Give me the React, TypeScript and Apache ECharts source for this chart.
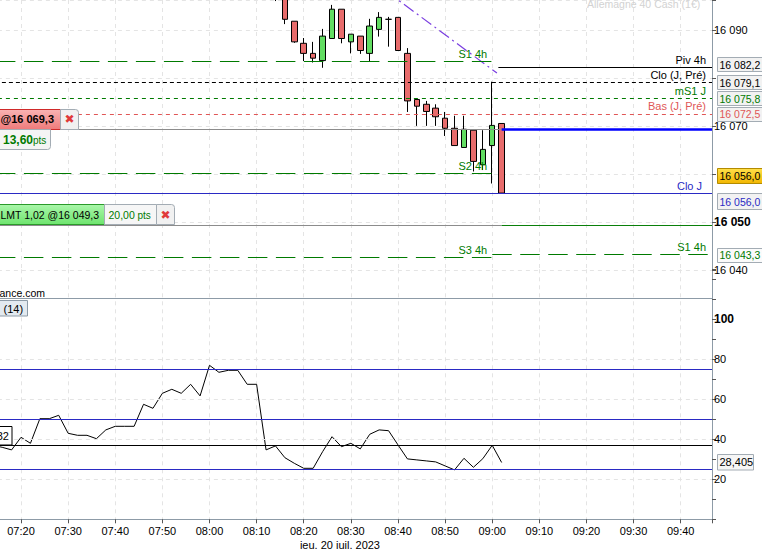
import { useEffect, useRef } from 'react';
import * as echarts from 'echarts';

const FONT = '"Liberation Sans", Arial, sans-serif';

// 2-minute candles, DAX cash
const candleTimes = ['08:14', '08:16', '08:18', '08:20', '08:22', '08:24', '08:26', '08:28', '08:30', '08:32', '08:34', '08:36', '08:38', '08:40', '08:42', '08:44', '08:46', '08:48', '08:50', '08:52', '08:54', '08:56', '08:58', '09:00', '09:02'];
const opens = [16097.5, 16098.5, 16091.8, 16087.2, 16085.1, 16083.6, 16088.2, 16094.3, 16087.5, 16088.7, 16085.1, 16090.1, 16092.2, 16092.6, 16085.1, 16075.5, 16074.5, 16073.7, 16071.6, 16069.5, 16065.5, 16069.1, 16061.9, 16065.9, 16070.5];
const closes = [16099.5, 16092.2, 16087.5, 16085.1, 16084.1, 16088.7, 16094.3, 16088.2, 16089.1, 16085.7, 16090.8, 16092.6, 16092.2, 16085.7, 16075.2, 16074.1, 16073.0, 16071.9, 16069.5, 16065.9, 16069.3, 16062.6, 16065.1, 16070.1, 16056.0];
const lows = [16096.0, 16091.2, 16087.3, 16083.5, 16083.2, 16082.1, 16088.2, 16087.2, 16085.1, 16085.0, 16083.5, 16088.6, 16086.5, 16085.7, 16072.9, 16070.0, 16070.0, 16070.0, 16067.9, 16065.9, 16065.5, 16060.5, 16060.8, 16058.0, 16056.0];
const highs = [16100.5, 16099.0, 16091.8, 16088.3, 16087.5, 16090.2, 16095.2, 16094.3, 16089.1, 16088.7, 16092.3, 16093.7, 16092.7, 16092.6, 16086.2, 16075.5, 16075.2, 16074.5, 16072.9, 16072.1, 16072.1, 16069.1, 16069.1, 16079.2, 16070.5];

// RSI(14)
const rsiTimes = ['07:14', '07:16', '07:18', '07:20', '07:22', '07:24', '07:26', '07:28', '07:30', '07:32', '07:34', '07:36', '07:38', '07:40', '07:42', '07:44', '07:46', '07:48', '07:50', '07:52', '07:54', '07:56', '07:58', '08:00', '08:02', '08:04', '08:06', '08:08', '08:10', '08:12', '08:14', '08:16', '08:18', '08:20', '08:22', '08:24', '08:26', '08:28', '08:30', '08:32', '08:34', '08:36', '08:38', '08:40', '08:42', '08:44', '08:46', '08:48', '08:50', '08:52', '08:54', '08:56', '08:58', '09:00', '09:02'];
const rsiValues = [37.0, 36.0, 34.7, 41.0, 38.0, 50.3, 50.3, 52.0, 43.0, 42.0, 42.0, 40.3, 44.7, 46.5, 46.5, 46.5, 57.5, 55.5, 63.0, 65.0, 63.0, 67.5, 61.7, 77.0, 73.5, 74.5, 74.5, 67.5, 67.5, 34.7, 36.7, 30.8, 28.0, 25.5, 25.5, 33.8, 41.3, 36.3, 38.0, 35.2, 42.5, 44.7, 44.3, 37.2, 30.2, 29.7, 29.2, 28.7, 26.7, 24.7, 30.5, 26.0, 30.3, 37.0, 28.405];
const rsiLevels = [75, 50, 25];
const rsiGridValues = [20, 40, 60, 80];
const rsiMarker = 37.15;

// levels
const sessionSplit = '09:00';
const prevSupportNames = ['S1 4h', 'S2 4h', 'S3 4h'];
const prevSupportValues = [16083.5, 16060.1, 16042.6];
const newSupportNames = ['S1 4h'];
const newSupportValues = [16043.3];
const pivotName = 'Piv 4h';
const pivotStart = '09:01.3';
const pivotValue = 16082.2;
const dayLevelNames = ['Clo (J, Pré)', 'mS1 J', 'Bas (J, Pré)', 'Clo J'];
const dayLevelValues = [16079.1, 16075.8, 16072.5, 16056.0];
// price ticks hidden behind the value tags
const coveredTicks = [16080, 16060];

// orders
const lastTime = '09:02';
const orderPrices = [16069.3, 16049.3];
const orderTexts = ['@16 069,3', 'LMT 1,02 @16 049,3'];
const orderPts = ['13,60', '20,00'];
const positionLine = 16069.4;

// trend line
const trendTimes = ['08:30', '09:01'];
const trendValues = [16103.5, 16081.0];

const X_MIN = 430;
const X_MAX = 586.64;
const X_VISIBLE = 435.54;
const GREEN = '#007a00';
const BLUE = '#2a2ac4';
const RED = '#e05656';
const AXIS = '#8d9ba7';

const toMin = (t: string) => {
  const [h, m] = t.split(':');
  return Number(h) * 60 + Number(m);
};
const pad = (n: number) => String(n).padStart(2, '0');
const isTen = (v: number) => Math.abs(v - Math.round(v / 10) * 10) < 1e-6;
const fmtNum = (v: number, dec: number) => {
  const [i, d] = v.toFixed(dec).split('.');
  const ip = i.replace(/\B(?=(\d{3})+(?!\d))/g, ' ');
  return d ? `${ip},${d}` : ip;
};

const endLabel = (text: string, color: string, dx: number) => ({
  show: true,
  formatter: text,
  position: 'insideEndTop',
  distance: [dx, 2],
  color,
  fontFamily: FONT,
  fontSize: 11,
});

const buildOption = () => {
  const split = toMin(sessionSplit);
  const last = toMin(lastTime);
  const longDash = [19.5, 8.5];
  const dayStyles = [
    { color: '#000', type: [4, 3] },
    { color: GREEN, type: [4, 4] },
    { color: RED, type: [4, 4] },
    { color: BLUE, type: 'solid' },
  ];
  const dayColors = ['#000', GREEN, RED, BLUE];

  const priceMarks: any[] = [
    ...prevSupportValues.map((v, i) => [
      { coord: [X_MIN, v], lineStyle: { color: GREEN, width: 1, type: longDash, dashOffset: 6 }, label: endLabel(prevSupportNames[i], GREEN, 5) },
      { coord: [split, v] },
    ]),
    ...newSupportValues.map((v, i) => [
      { coord: [split, v], lineStyle: { color: GREEN, width: 1, type: longDash, dashOffset: 0 }, label: endLabel(newSupportNames[i], GREEN, 6) },
      { coord: [X_MAX, v] },
    ]),
    [
      { coord: [toMin(pivotStart), pivotValue], lineStyle: { color: '#000', width: 1, type: 'solid' }, label: endLabel(pivotName, '#000', 6) },
      { coord: [X_MAX, pivotValue] },
    ],
    ...dayLevelValues.map((v, i) => ({
      yAxis: v,
      lineStyle: { width: 1, ...dayStyles[i] },
      label: endLabel(dayLevelNames[i], dayColors[i], i === 3 ? 10 : 6),
    })),
    [{ coord: [X_MIN, orderPrices[0]], lineStyle: { color: '#8c8c8c', width: 1, type: 'solid' } }, { coord: [last, orderPrices[0]] }],
    [{ coord: [last, positionLine], lineStyle: { color: '#0000ff', width: 2.5, type: 'solid' } }, { coord: [X_MAX, positionLine] }],
    [{ coord: [X_MIN, orderPrices[1]], lineStyle: { color: '#8c8c8c', width: 1, type: 'solid' } }, { coord: [last, orderPrices[1]] }],
    [{ coord: [last, orderPrices[1]], lineStyle: { color: '#0a800a', width: 1, type: 'solid' } }, { coord: [X_MAX, orderPrices[1]] }],
  ];

  const rsiMarks: any[] = [
    ...rsiGridValues.map((v) => ({ yAxis: v, lineStyle: { color: '#e4e4e4', width: 1, type: [4, 4] } })),
    ...rsiLevels.map((v) => ({ yAxis: v, lineStyle: { color: BLUE, width: 1, type: 'solid' } })),
    { yAxis: rsiMarker, lineStyle: { color: '#000', width: 1, type: 'solid' } },
  ];

  const xBase = {
    type: 'value',
    min: X_MIN,
    max: X_MAX,
    interval: 10,
    splitLine: { show: true, lineStyle: { color: '#e4e4e4', type: [4, 4] } },
  };

  return {
    animation: false,
    backgroundColor: '#ffffff',
    textStyle: { fontFamily: FONT, fontSize: 11 },
    grid: [
      { left: -26.1, right: 50, top: 0, height: 269.9, containLabel: false, outerBoundsMode: 'none' },
      { left: -26.1, right: 50, top: 269.3, height: 250, containLabel: false, outerBoundsMode: 'none' },
    ],
    xAxis: [
      { ...xBase, gridIndex: 0, axisLine: { show: false }, axisTick: { show: false }, axisLabel: { show: false } },
      {
        ...xBase,
        gridIndex: 1,
        axisLine: { show: true, onZero: false, lineStyle: { color: AXIS } },
        axisTick: { show: true, length: 4, lineStyle: { color: '#555' } },
        axisLabel: {
          color: '#000',
          margin: 6,
          fontSize: 11,
          fontFamily: FONT,
          formatter: (v: number) =>
            isTen(v) && v > X_VISIBLE ? `${pad(Math.floor(v / 60))}:${pad(Math.round(v % 60))}` : '',
        },
      },
    ],
    yAxis: [
      {
        type: 'value',
        gridIndex: 0,
        position: 'right',
        min: 16040,
        max: 16096.22,
        interval: 10,
        axisLine: { show: true, lineStyle: { color: AXIS } },
        axisTick: { show: true, length: 4, lineStyle: { color: '#555' } },
        axisLabel: {
          color: '#000',
          margin: 2,
          fontSize: 11,
          fontFamily: FONT,
          formatter: (v: number) => {
            if (!isTen(v) || coveredTicks.includes(Math.round(v))) return '';
            const t = fmtNum(v, 0);
            return Math.round(v) % 50 === 0 ? `{b|${t}}` : t;
          },
          rich: { b: { fontWeight: 'bold', fontSize: 12, fontFamily: FONT, color: '#000' } },
        },
        splitLine: { show: true, lineStyle: { color: '#e4e4e4', type: [4, 4] } },
      },
      {
        type: 'value',
        gridIndex: 1,
        position: 'right',
        min: 0,
        max: 125,
        interval: 20,
        axisLine: { show: true, lineStyle: { color: AXIS } },
        axisTick: { show: true, length: 4, lineStyle: { color: '#555' } },
        minorTick: { show: true, splitNumber: 2, length: 4, lineStyle: { color: '#555' } },
        axisLabel: {
          color: '#000',
          margin: 2,
          fontSize: 11,
          fontFamily: FONT,
          formatter: (v: number) => (v === 100 ? '{b|100}' : v > 0 && v < 100 ? String(v) : ''),
          rich: { b: { fontWeight: 'bold', fontSize: 12, fontFamily: FONT, color: '#000' } },
        },
        splitLine: { show: false },
      },
    ],
    series: [
      {
        type: 'line',
        xAxisIndex: 0,
        yAxisIndex: 0,
        data: trendTimes.map((t, i) => [toMin(t), trendValues[i]]),
        symbol: 'none',
        silent: true,
        lineStyle: { color: '#7a3ee0', width: 1.2, type: [12, 4, 2, 4] },
        markLine: { silent: true, symbol: ['none', 'none'], label: { show: false }, data: priceMarks },
      },
      {
        type: 'candlestick',
        xAxisIndex: 0,
        yAxisIndex: 0,
        barWidth: 6,
        silent: true,
        encode: { x: 0, y: [1, 2, 3, 4] },
        data: candleTimes.map((t, i) => [toMin(t), opens[i], closes[i], lows[i], highs[i]]),
        itemStyle: { color: '#62dd62', color0: '#e86c6c', borderColor: '#000', borderColor0: '#000', borderWidth: 1 },
      },
      {
        type: 'line',
        xAxisIndex: 1,
        yAxisIndex: 1,
        data: rsiTimes.map((t, i) => [toMin(t), rsiValues[i]]),
        symbol: 'none',
        silent: true,
        lineStyle: { color: '#000', width: 1 },
        markLine: { silent: true, symbol: ['none', 'none'], label: { show: false }, data: rsiMarks },
      },
    ],
  };
};

const rect = (x: number, y: number, w: number, h: number, fill: any, stroke: string, r: any = 0) => ({
  type: 'rect',
  z: 100,
  silent: true,
  shape: { x, y, width: w, height: h, r },
  style: { fill, stroke, lineWidth: 1 },
});

const txt = (x: number, y: number, text: string, fill: string, size = 11, weight = 'normal', align = 'left', family = FONT) => ({
  type: 'text',
  z: 101,
  silent: true,
  x,
  y,
  style: { text, fill, font: `${weight} ${size}px ${family}`, align, verticalAlign: 'middle' },
});

const grad = (top: string, bottom: string) =>
  new echarts.graphic.LinearGradient(0, 0, 0, 1, [
    { offset: 0, color: top },
    { offset: 1, color: bottom },
  ]);

const buildGraphics = (py: (v: number) => number, ry: (v: number) => number) => {
  const els: any[] = [];
  const snap = (v: number) => Math.round(v) + 0.5;

  // panel separator
  els.push({ type: 'line', z: 90, silent: true, shape: { x1: 0, y1: 298.5, x2: 712, y2: 298.5 }, style: { stroke: AXIS, lineWidth: 1 } });

  // value tags on the price axis
  const lastClose = closes[closes.length - 1];
  const tags = [
    { v: pivotValue, dy: -3.3, color: '#000', fill: '#f2f2f2', h: 14 },
    { v: dayLevelValues[0], dy: 0, color: '#000', fill: '#f2f2f2', h: 14 },
    { v: dayLevelValues[1], dy: 0, color: GREEN, fill: '#f2f2f2', h: 14 },
    { v: dayLevelValues[2], dy: 0, color: RED, fill: '#f2f2f2', h: 14 },
    { v: lastClose, dy: -18, color: '#000', fill: grad('#ffe04a', '#f2b600'), h: 15, stroke: '#b38b00' },
    { v: dayLevelValues[3], dy: 8, color: BLUE, fill: '#f2f2f2', h: 16 },
    { v: newSupportValues[0], dy: 0.7, color: GREEN, fill: '#fbfbfb', h: 14 },
  ];
  tags.forEach((t) => {
    const cy = py(t.v) + t.dy;
    els.push(rect(717.5, snap(cy - t.h / 2), 50, t.h, t.fill, (t as any).stroke || '#a3acb4'));
    els.push(txt(719.5, cy + 0.5, fmtNum(t.v, 1), t.color, 10.5));
  });

  // RSI tag
  const last = rsiValues[rsiValues.length - 1];
  const rc = ry(last);
  els.push(rect(717.5, snap(rc - 8), 36, 15.5, '#f6f6f6', '#a3acb4'));
  els.push(txt(719.5, rc, last.toFixed(3).replace('.', ','), '#000', 11));

  // order 1 (red)
  const y1 = py(orderPrices[0]);
  els.push(rect(-60.5, snap(y1 - 20), 121, 20, grad('#f9b4b4', '#ef7a7a'), '#d02a2a'));
  els.push(txt(54, y1 - 10, orderTexts[0], '#000', 11, 'bold', 'right'));
  els.push(rect(60.5, snap(y1 - 20), 18, 20, '#f1f1f1', '#a3acb4', [0, 3, 0, 0]));
  els.push(txt(69.5, y1 - 10, '✖', '#e03a3a', 12, 'bold', 'center', '"DejaVu Sans", sans-serif'));
  els.push(rect(-10.5, snap(y1), 61, 20, '#f4f4f4', '#a3acb4', [0, 0, 3, 0]));
  els.push(txt(3, y1 + 10.5, orderPts[0], GREEN, 12, 'bold'));
  els.push(txt(33, y1 + 11, 'pts', GREEN, 10));

  // order 2 (green)
  const y2 = py(orderPrices[1]);
  const top2 = snap(y2 - 21);
  els.push(rect(-10.5, top2, 115, 20, grad('#aaf7aa', '#6ee46e'), '#2a9a2a'));
  els.push(txt(0.5, top2 + 10, orderTexts[1], '#000', 10.5));
  els.push(rect(104.5, top2, 52, 20, '#f6f6f6', '#a3acb4'));
  els.push(txt(108.5, top2 + 10, orderPts[1], GREEN, 10.5));
  els.push(txt(137.5, top2 + 10.5, 'pts', GREEN, 10));
  els.push(rect(156.5, top2, 18, 20, '#f1f1f1', '#a3acb4', [0, 3, 0, 0]));
  els.push(txt(165.5, top2 + 10, '✖', '#e03a3a', 12, 'bold', 'center', '"DejaVu Sans", sans-serif'));

  // RSI panel captions
  els.push(txt(-0.5, 292.5, 'ance.com', '#000', 10.5));
  els.push(rect(-20.5, 300.5, 48, 15.5, '#e3eaf0', AXIS));
  els.push(txt(3.5, 308.5, '(14)', '#000', 11));
  const ym = ry(rsiMarker);
  els.push(rect(-30.5, snap(ym - 19), 42.5, 18.5, '#ffffff', '#000'));
  els.push(txt(9, ym - 9.5, '32', '#000', 11, 'normal', 'right'));

  // titles
  els.push(txt(587, 3.5, 'Allemagne 40 Cash (1€)', '#d2d2d2', 10.5));
  els.push(txt(380, 544.5, 'jeu. 20 juil. 2023', '#000', 11, 'normal', 'right'));

  return els;
};

export default function App() {
  const ref = useRef<HTMLDivElement>(null);

  useEffect(() => {
    if (!ref.current) return;
    const chart = echarts.init(ref.current, null, { renderer: 'svg' });
    chart.setOption(buildOption() as any);
    const py = (v: number) => chart.convertToPixel({ yAxisIndex: 0 } as any, v) as number;
    const ry = (v: number) => chart.convertToPixel({ yAxisIndex: 1 } as any, v) as number;
    chart.setOption({ graphic: buildGraphics(py, ry) } as any);
    return () => {
      chart.dispose();
    };
  }, []);

  return <div ref={ref} style={{ position: 'fixed', left: 0, top: 0, width: 762, height: 549 }} />;
}
